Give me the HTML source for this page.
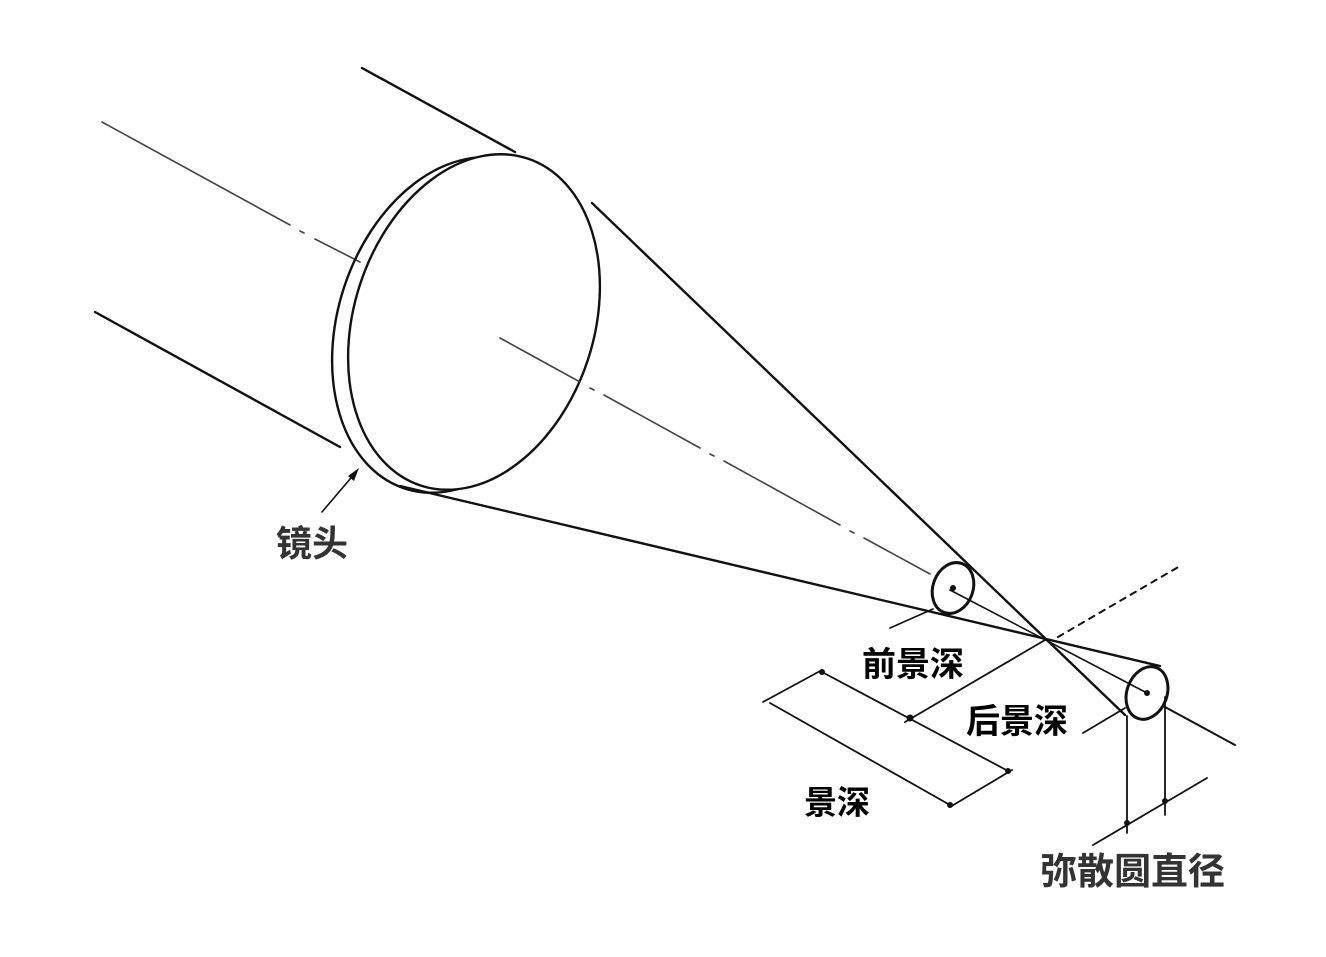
<!DOCTYPE html>
<html><head><meta charset="utf-8"><style>
html,body{margin:0;padding:0;background:#fff;width:1326px;height:957px;overflow:hidden}
svg{display:block}
text{font-family:"Liberation Sans","Noto Sans CJK SC",sans-serif;font-weight:bold}
</style></head><body>
<svg width="1326" height="957" viewBox="0 0 1326 957" xmlns="http://www.w3.org/2000/svg">
<g fill="none" stroke="#111" stroke-width="2.4" stroke-linecap="round">
 <line x1="362" y1="68" x2="515" y2="152"/>
 <line x1="95" y1="312" x2="340" y2="447"/>
 <path d="M102 122 L290 225 M300 231 L304 233 M315 239 L360 262" stroke="#444" stroke-width="1.6"/>
 <ellipse cx="458" cy="325" rx="120" ry="172" transform="rotate(18 458 325)"/>
 <ellipse cx="474" cy="322" rx="120" ry="172" transform="rotate(18 474 322)" fill="#fff"/>
 <path d="M500 338 L580 382 M590 388 L594 390 M604 395 L700 448 M710 454 L714 456 M724 461 L840 525 M850 531 L854 533 M864 538 L930 574" stroke="#444" stroke-width="1.6"/>
 <path d="M1165 707 L1235 745" stroke-width="2"/>
 <line x1="592" y1="203" x2="1125" y2="715"/>
 <line x1="400" y1="486" x2="1160" y2="666"/>
 <line x1="950" y1="590" x2="1147" y2="693" stroke-width="1.6"/>
 <ellipse cx="953" cy="588" rx="20" ry="26" transform="rotate(20 953 588)" stroke-width="3"/>
 <ellipse cx="1147" cy="693" rx="20" ry="27" transform="rotate(20 1147 693)" stroke-width="3"/>
 <line x1="890" y1="628" x2="933" y2="609" stroke-width="1.6"/>
 <path d="M1058 637 L1180 566" stroke-width="2" stroke-dasharray="6 6"/>
 <line x1="1045" y1="640" x2="905" y2="722" stroke-width="1.8"/>
 <line x1="1083" y1="733" x2="1125" y2="708" stroke-width="1.8"/>
 <line x1="763" y1="702" x2="822" y2="670" stroke-width="1.8"/>
 <line x1="822" y1="672" x2="1010" y2="772" stroke-width="1.8"/>
 <line x1="770" y1="703" x2="950" y2="805" stroke-width="1.8"/>
 <line x1="950" y1="807" x2="1012" y2="770" stroke-width="1.8"/>
 <line x1="1127" y1="716" x2="1127" y2="833" stroke-width="1.8"/>
 <line x1="1165" y1="697" x2="1165" y2="815" stroke-width="1.8"/>
 <line x1="1093" y1="845" x2="1207" y2="778" stroke-width="1.8"/>
 <line x1="322" y1="512" x2="356" y2="472" stroke-width="1.6"/>
</g>
<g fill="#111">
 <polygon points="359,468 348,476 354,481"/>
 <circle cx="822" cy="672" r="3"/><circle cx="910" cy="718" r="3.5"/><circle cx="1008" cy="771" r="3"/>
 <circle cx="950" cy="805" r="3"/><circle cx="1127" cy="823" r="3"/><circle cx="1165" cy="801" r="3"/>
 <circle cx="953" cy="588" r="3"/><circle cx="1147" cy="693" r="3"/>
</g>
<text x="276" y="556" font-size="36" fill="#333">镜头</text>
<text x="862" y="676" font-size="34" fill="#000">前景深</text>
<text x="966" y="733" font-size="34" fill="#000">后景深</text>
<text x="804" y="814" font-size="33" fill="#000">景深</text>
<text x="1040" y="884" font-size="37" fill="#333">弥散圆直径</text>
</svg>
</body></html>
